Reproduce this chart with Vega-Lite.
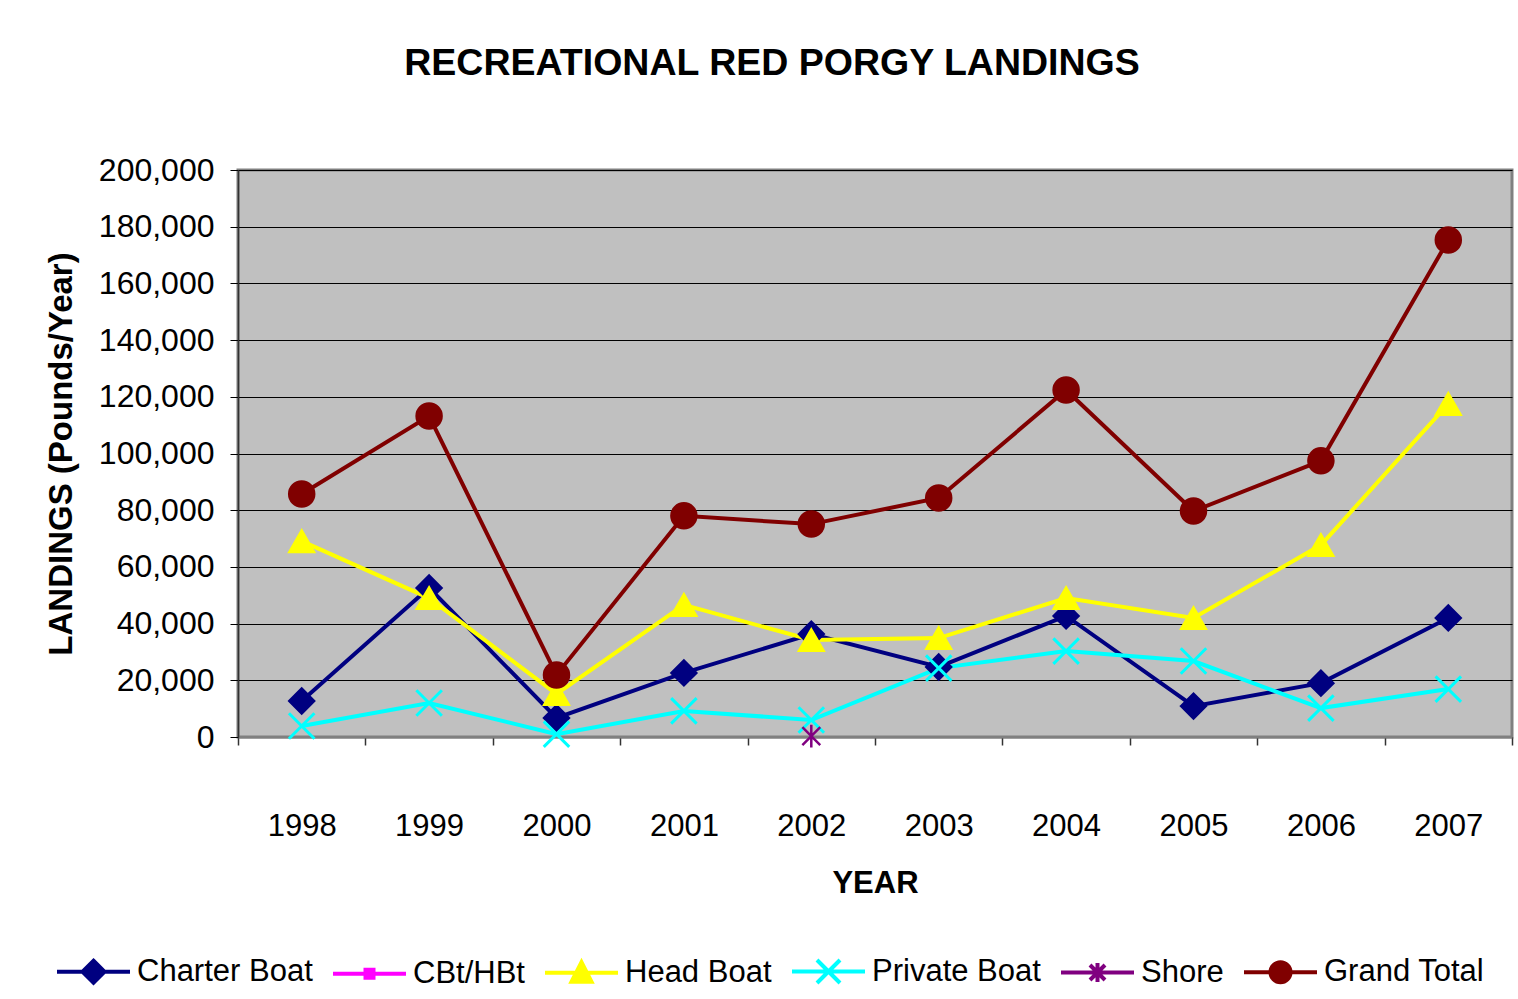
{
  "$schema": "https://vega.github.io/schema/vega-lite/v6.json",
  "width": 1274,
  "height": 567,
  "autosize": {"type": "none"},
  "padding": {"left": 238, "top": 170, "right": 6, "bottom": 262},
  "background": "white",
  "title": {
    "text": "RECREATIONAL RED PORGY LANDINGS",
    "font": "Liberation Sans",
    "fontSize": 37.5,
    "fontWeight": "bold",
    "color": "black",
    "anchor": "middle",
    "dx": -103,
    "offset": 72
  },
  "config": {
    "view": {"fill": "#C0C0C0", "stroke": "#808080", "strokeWidth": 3},
    "font": "Liberation Sans"
  },
  "data": {
    "values": [
      {"year": "1998", "series": "Charter Boat", "value": 12700},
      {"year": "1999", "series": "Charter Boat", "value": 52600},
      {"year": "2000", "series": "Charter Boat", "value": 6700},
      {"year": "2001", "series": "Charter Boat", "value": 22600},
      {"year": "2002", "series": "Charter Boat", "value": 36300},
      {"year": "2003", "series": "Charter Boat", "value": 24700},
      {"year": "2004", "series": "Charter Boat", "value": 42700},
      {"year": "2005", "series": "Charter Boat", "value": 10900},
      {"year": "2006", "series": "Charter Boat", "value": 19000},
      {"year": "2007", "series": "Charter Boat", "value": 42000},
      {"year": "1998", "series": "Head Boat", "value": 69100},
      {"year": "1999", "series": "Head Boat", "value": 49000},
      {"year": "2000", "series": "Head Boat", "value": 15200},
      {"year": "2001", "series": "Head Boat", "value": 46600},
      {"year": "2002", "series": "Head Boat", "value": 34200},
      {"year": "2003", "series": "Head Boat", "value": 34900},
      {"year": "2004", "series": "Head Boat", "value": 49000},
      {"year": "2005", "series": "Head Boat", "value": 42000},
      {"year": "2006", "series": "Head Boat", "value": 67700},
      {"year": "2007", "series": "Head Boat", "value": 117500},
      {"year": "1998", "series": "Private Boat", "value": 3900},
      {"year": "1999", "series": "Private Boat", "value": 12000},
      {"year": "2000", "series": "Private Boat", "value": 1000},
      {"year": "2001", "series": "Private Boat", "value": 9200},
      {"year": "2002", "series": "Private Boat", "value": 6000},
      {"year": "2003", "series": "Private Boat", "value": 24300},
      {"year": "2004", "series": "Private Boat", "value": 30300},
      {"year": "2005", "series": "Private Boat", "value": 26800},
      {"year": "2006", "series": "Private Boat", "value": 10200},
      {"year": "2007", "series": "Private Boat", "value": 16900},
      {"year": "2002", "series": "Shore", "value": 300},
      {"year": "1998", "series": "Grand Total", "value": 85700},
      {"year": "1999", "series": "Grand Total", "value": 113200},
      {"year": "2000", "series": "Grand Total", "value": 21900},
      {"year": "2001", "series": "Grand Total", "value": 78000},
      {"year": "2002", "series": "Grand Total", "value": 75100},
      {"year": "2003", "series": "Grand Total", "value": 84300},
      {"year": "2004", "series": "Grand Total", "value": 122400},
      {"year": "2005", "series": "Grand Total", "value": 79700},
      {"year": "2006", "series": "Grand Total", "value": 97400},
      {"year": "2007", "series": "Grand Total", "value": 175300}
    ]
  },
  "encoding": {
    "x": {
      "field": "year",
      "type": "ordinal",
      "scale": {"type": "band", "paddingInner": 0, "paddingOuter": 0, "domain": ["1998","1999","2000","2001","2002","2003","2004","2005","2006","2007"]},
      "axis": {
        "title": "YEAR",
        "labelAngle": 0,
        "labelFontSize": 31,
        "labelColor": "black",
        "labelPadding": 66,
        "tickBand": "extent",
        "tickSize": 8,
        "tickColor": "#333333",
        "tickWidth": 1.5,
        "domainColor": "#808080",
        "domainWidth": 2,
        "grid": false,
        "titleFontSize": 31,
        "titleFontWeight": "bold",
        "titleColor": "black",
        "titlePadding": 27
      }
    },
    "y": {
      "field": "value",
      "type": "quantitative",
      "scale": {"domain": [0, 200000], "nice": false},
      "axis": {
        "title": "LANDINGS (Pounds/Year)",
        "values": [0,20000,40000,60000,80000,100000,120000,140000,160000,180000,200000],
        "format": ",d",
        "labelFontSize": 32,
        "labelColor": "black",
        "labelPadding": 16,
        "tickSize": 8,
        "tickColor": "black",
        "domainColor": "#333333",
        "domainWidth": 1.5,
        "gridColor": "black",
        "gridWidth": 1,
        "gridOpacity": 1,
        "titleFontSize": 33,
        "titleFontWeight": "bold",
        "titleColor": "black",
        "titlePadding": 20
      }
    }
  },
  "layer": [
    {
      "transform": [{"filter": "false"}],
      "mark": {"type": "point", "filled": false, "size": 100, "strokeWidth": 4},
      "encoding": {
        "color": {
          "field": "series",
          "type": "nominal",
          "scale": {
            "domain": ["Charter Boat", "CBt/HBt", "Head Boat", "Private Boat", "Shore", "Grand Total"],
            "range": ["#000080", "#FF00FF", "#FFFF00", "#00FFFF", "#800080", "#800000"]
          },
          "legend": {
            "title": null,
            "orient": "none",
            "direction": "horizontal",
            "legendX": -160,
            "legendY": 786,
            "columns": 6,
            "columnPadding": 12,
            "labelFontSize": 31,
            "labelLimit": 400,
            "labelColor": "black",
            "labelFont": "Liberation Sans",
            "symbolSize": 100,
            "symbolStrokeWidth": 4,
            "symbolOpacity": 1,
            "labelOffset": 28
          }
        },
        "shape": {
          "field": "series",
          "type": "nominal",
          "scale": {
            "domain": ["Charter Boat", "CBt/HBt", "Head Boat", "Private Boat", "Shore", "Grand Total"],
            "range": [
              "M-7.3,0H7.3M0,-2.2L2.2,0L0,2.2L-2.2,0ZM0,-1.5L1.5,0L0,1.5L-1.5,0ZM0,-0.8L0.8,0L0,0.8L-0.8,0ZM0,-0.2L0.2,0L0,0.2L-0.2,0Z",
              "M-7.3,0H7.3M-0.8,-0.8H0.8V0.8H-0.8ZM-0.3,-0.3H0.3V0.3H-0.3Z",
              "M-7.3,0H7.3M0,-2.1L2.0,1.8L-2.0,1.8ZM0,-1.06L1.2,1.28L-1.2,1.28ZM0,-0.15L0.5,0.83L-0.5,0.83Z",
              "M-7.3,0H7.3M-2.3,-2.3L2.3,2.3M-2.3,2.3L2.3,-2.3",
              "M-7.3,0H7.3M-1.5,-1.5L1.5,1.5M-1.5,1.5L1.5,-1.5M0,-1.9V1.9",
              "M-7.3,0H7.3M-2,0A2,2,0,1,1,2,0A2,2,0,1,1,-2,0ZM-1.3,0A1.3,1.3,0,1,1,1.3,0A1.3,1.3,0,1,1,-1.3,0ZM-0.6,0A0.6,0.6,0,1,1,0.6,0A0.6,0.6,0,1,1,-0.6,0Z"
            ]
          }
        }
      }
    },
    {
      "mark": {"type": "line", "strokeWidth": 4},
      "encoding": {
        "stroke": {
          "field": "series",
          "type": "nominal",
          "scale": {
            "domain": ["Charter Boat", "CBt/HBt", "Head Boat", "Private Boat", "Shore", "Grand Total"],
            "range": ["#000080", "#FF00FF", "#FFFF00", "#00FFFF", "#800080", "#800000"]
          },
          "legend": null
        }
      }
    },
    {
      "transform": [{"filter": "datum.series === 'Charter Boat'"}],
      "mark": {"type": "point", "shape": "diamond", "filled": true, "size": 650, "strokeWidth": 2, "opacity": 1, "fill": "#000080", "stroke": "#000080"},
      "encoding": {}
    },
    {
      "transform": [{"filter": "datum.series === 'Head Boat'"}],
      "mark": {"type": "point", "shape": "triangle-up", "filled": true, "size": 650, "strokeWidth": 2, "opacity": 1, "fill": "#FFFF00", "stroke": "#FFFF00"},
      "encoding": {}
    },
    {
      "transform": [{"filter": "datum.series === 'Private Boat'"}],
      "mark": {"type": "point", "shape": "M-1,-1L1,1M-1,1L1,-1", "filled": false, "size": 650, "strokeWidth": 3, "opacity": 1, "stroke": "#00FFFF"},
      "encoding": {}
    },
    {
      "transform": [{"filter": "datum.series === 'Shore'"}],
      "mark": {"type": "point", "shape": "M-0.7,-0.7L0.7,0.7M-0.7,0.7L0.7,-0.7M0,-0.9V0.9", "filled": false, "size": 650, "strokeWidth": 2.5, "opacity": 1, "stroke": "#800080"},
      "encoding": {}
    },
    {
      "transform": [{"filter": "datum.series === 'Grand Total'"}],
      "mark": {"type": "point", "shape": "circle", "filled": true, "size": 650, "strokeWidth": 2, "opacity": 1, "fill": "#800000", "stroke": "#800000"},
      "encoding": {}
    }
  ]
}
